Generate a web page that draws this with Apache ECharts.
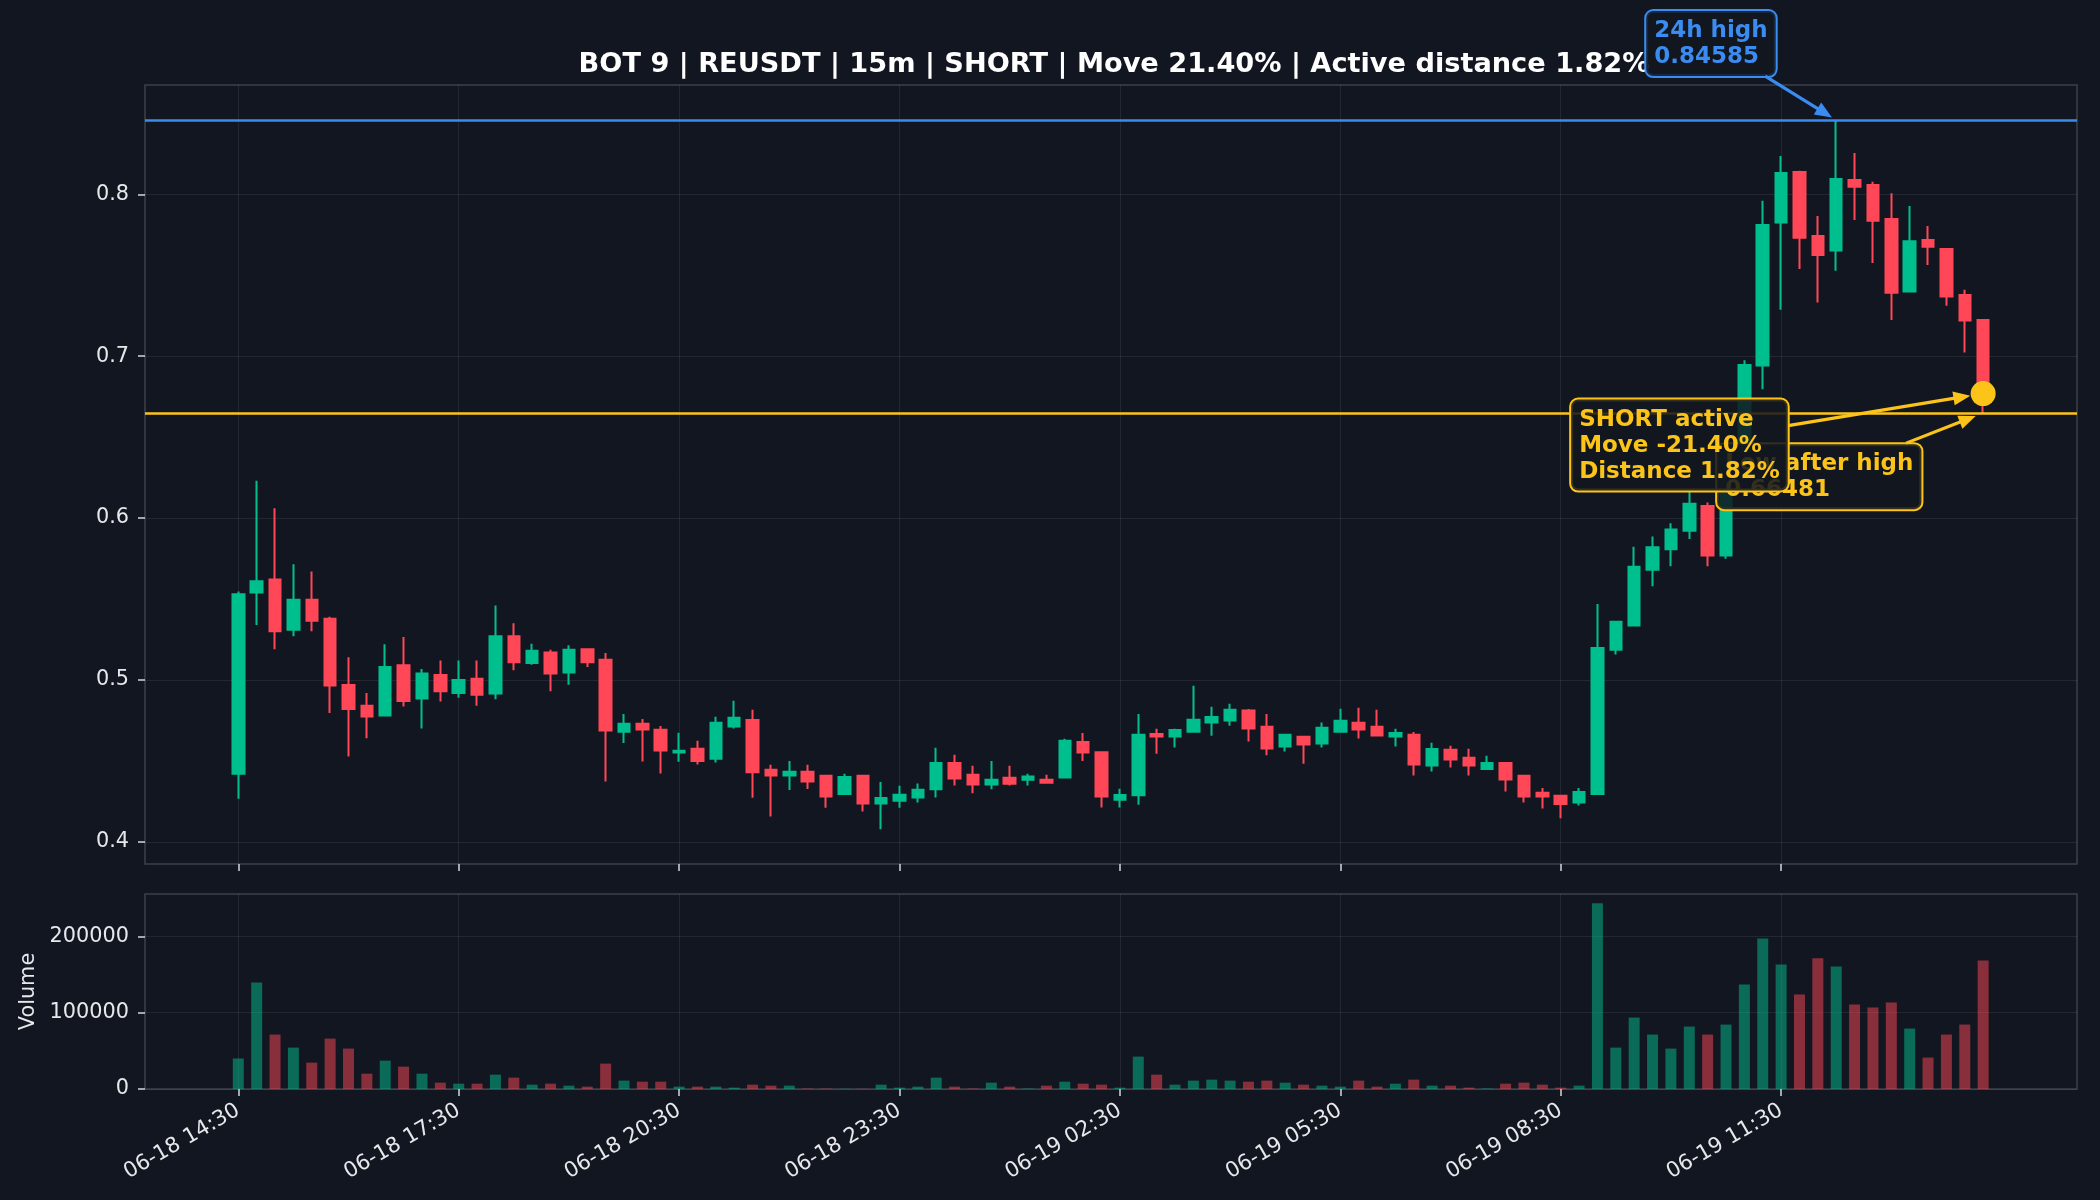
<!DOCTYPE html>
<html>
<head>
<meta charset="utf-8">
<script src="https://cdn.jsdelivr.net/npm/echarts@6/dist/echarts.min.js"></script>
<style>
  html, body { margin: 0; padding: 0; background: #121620; }
  #chart { width: 2100px; height: 1200px; }
</style>
</head>
<body>
<div id="chart"></div>
<script>
  // 15m candles, 06-18 14:30 -> 06-19 14:15
  const opens = [0.442,0.554,0.562,0.531,0.5495,0.5378,0.4968,0.484,0.478,0.509,0.4886,0.503,0.492,0.5007,0.4916,0.527,
    0.5104,0.517,0.5046,0.519,0.5124,0.468,0.473,0.4692,0.4552,0.4575,0.4513,0.4713,0.4752,0.4445,0.441,0.4433,
    0.4408,0.4295,0.4408,0.4237,0.4254,0.4274,0.4324,0.4487,0.4414,0.4354,0.4396,0.4383,0.4383,0.4398,0.4616,0.4554,
    0.426,0.4287,0.4666,0.4651,0.468,0.4737,0.475,0.4811,0.4711,0.4589,0.4649,0.4608,0.468,0.4735,0.4711,0.4651,
    0.4661,0.4472,0.4569,0.4519,0.445,0.4487,0.4408,0.4303,0.4285,0.4243,0.4295,0.5187,0.5336,0.5681,0.5807,0.5922,
    0.6075,0.5768,0.641,0.6942,0.7825,0.8138,0.7743,0.7652,0.8088,0.8057,0.7848,0.7399,0.7718,0.7662,0.7378,0.7224]
  const closes = [0.553,0.561,0.530,0.5495,0.5365,0.4966,0.482,0.4774,0.508,0.487,0.504,0.493,0.500,0.4908,0.527,0.511,
    0.518,0.504,0.5186,0.511,0.4688,0.473,0.4694,0.4564,0.4563,0.450,0.4735,0.4766,0.4429,0.441,0.4433,0.4373,
    0.428,0.440,0.4237,0.427,0.4291,0.4322,0.4487,0.4391,0.4354,0.4383,0.4359,0.4404,0.4365,0.4624,0.4552,0.428,
    0.4289,0.4661,0.4651,0.469,0.4754,0.4771,0.4816,0.470,0.4577,0.4661,0.4601,0.4705,0.4748,0.4694,0.4657,0.4672,
    0.4478,0.4573,0.4509,0.4472,0.4487,0.4385,0.428,0.428,0.4233,0.4307,0.5197,0.5359,0.5699,0.582,0.593,0.6088,
    0.5768,0.641,0.6946,0.781,0.8132,0.7732,0.7625,0.8095,0.8047,0.7837,0.7392,0.771,0.7676,0.7368,0.722,0.6769]
  const highs = [0.5546,0.623,0.606,0.5715,0.567,0.539,0.514,0.492,0.522,0.5265,0.5067,0.512,0.512,0.512,0.546,0.535,
    0.5223,0.5186,0.5215,0.5195,0.5166,0.479,0.4758,0.4715,0.4674,0.4624,0.4772,0.4871,0.4816,0.4476,0.450,0.4476,
    0.441,0.442,0.441,0.4369,0.4346,0.436,0.4581,0.4538,0.447,0.450,0.447,0.442,0.4414,0.4637,0.4672,0.4556,
    0.4328,0.4789,0.4698,0.4698,0.4964,0.4834,0.4853,0.482,0.4789,0.4666,0.465,0.4737,0.4822,0.4828,0.4816,0.4698,
    0.4678,0.4612,0.4593,0.4575,0.4532,0.449,0.441,0.4332,0.4291,0.4332,0.5469,0.536,0.5822,0.5886,0.5968,0.617,
    0.6096,0.643,0.6975,0.796,0.8237,0.8145,0.7866,0.84585,0.8255,0.8078,0.8006,0.7928,0.7804,0.7665,0.741,0.7228]
  const lows = [0.4266,0.534,0.519,0.527,0.530,0.4795,0.4527,0.464,0.4775,0.4836,0.470,0.4867,0.489,0.484,0.488,0.506,
    0.5094,0.493,0.497,0.508,0.4373,0.461,0.4496,0.4422,0.4495,0.4478,0.449,0.470,0.4272,0.4157,0.432,0.4326,
    0.421,0.4295,0.4188,0.4077,0.421,0.4243,0.4274,0.4348,0.430,0.4324,0.4348,0.4348,0.436,0.4396,0.450,0.4212,
    0.4212,0.4229,0.4544,0.4583,0.4676,0.4655,0.4717,0.462,0.4534,0.4558,0.4482,0.4583,0.468,0.4639,0.4655,0.4589,
    0.441,0.4435,0.4459,0.441,0.4449,0.4311,0.4243,0.4206,0.4145,0.4225,0.429,0.5157,0.5336,0.5579,0.5702,0.5871,
    0.5702,0.5748,0.638,0.6796,0.7286,0.7539,0.7331,0.7528,0.7841,0.7576,0.7224,0.7395,0.7563,0.7312,0.7022,0.66481]
  const volumes = [40000,139700,71400,54300,34600,66100,53000,20100,37200,29300,20100,8300,7000,7000,18800,14900,
    5700,7000,4400,3100,33300,11000,9600,9600,3100,3100,3100,1800,5700,4400,4400,600,
    600,300,300,5700,1800,3100,14900,3100,600,8300,3100,600,4400,9600,7000,5700,
    1800,42500,18800,5700,11000,12300,11000,9600,11000,8300,5700,4400,3100,11000,3100,7000,
    12300,4400,4400,1800,600,7000,8300,5700,1800,4400,243500,54300,93700,71400,53000,81900,
    71400,84500,137100,197500,163400,124000,171300,160700,110800,106900,113400,79300,41200,71400,84500,168600]

  const tickIdx = [0, 12, 24, 36, 48, 60, 72, 84]
  const tickLabels = ['06-18 14:30','06-18 17:30','06-18 20:30','06-18 23:30','06-19 02:30','06-19 05:30','06-19 08:30','06-19 11:30']
  const priceTicks = [0.4, 0.5, 0.6, 0.7, 0.8]
  const volTicks = [0, 100000, 200000]

  const high24h = 0.84585
  const highIdx = 87
  const lowAfterHigh = 0.66481
  const lastIdx = closes.length - 1

  const BG = '#121620'
  const UP = '#00bf8f', DOWN = '#ff4757'
  const BLUE = '#3a8cf0', GOLD = '#fcc419'
  const FONT = 'DejaVu Sans'
  const TXT = '#e6e8eb'
  const GRIDC = 'rgba(255,255,255,0.075)'
  const FRAME = '#3c4049'
  const TICKC = '#d4d7dc'

  const movePct = ((1 - lowAfterHigh / high24h) * 100).toFixed(2)
  const distPct = ((closes[lastIdx] / lowAfterHigh - 1) * 100).toFixed(2)

  let chart = echarts.init(document.getElementById('chart'))

  let candleData = opens.map((o, i) => [i, o, closes[i], lows[i], highs[i]])
  let volData = volumes.map((v, i) => ({
    value: [i, v],
    itemStyle: { color: closes[i] >= opens[i] ? 'rgba(0,191,143,0.5)' : 'rgba(255,71,87,0.5)' }
  }))

  function xAxisCfg(grid, labels) {
    return {
      type: 'value', gridIndex: grid, min: -5.08, max: 100.11,
      axisLine: { show: false, onZero: false },
      axisTick: { show: true, customValues: tickIdx, length: 7, lineStyle: { color: TICKC, width: 1.5 } },
      axisLabel: {
        show: labels, customValues: tickIdx, rotate: 30, margin: 20,
        color: TXT, fontSize: 21.3, fontFamily: FONT,
        formatter: v => {
          let k = tickIdx.indexOf(Math.round(v))
          return k >= 0 ? tickLabels[k] : ''
        }
      },
      splitLine: { show: true, lineStyle: { color: GRIDC, width: 1 } }
    }
  }

  let option = {
    backgroundColor: BG,
    animation: false,
    title: {
      text: 'BOT 9 | REUSDT | 15m | SHORT | Move ' + movePct + '% | Active distance ' + distPct + '%',
      left: 1109, top: 46, textAlign: 'center',
      textStyle: { color: '#ffffff', fontSize: 27.2, fontWeight: 'bold', fontFamily: FONT }
    },
    grid: [
      { left: 145, right: 23, top: 85, height: 779, show: true, borderColor: FRAME, borderWidth: 1.5, backgroundColor: 'transparent' },
      { left: 145, right: 23, top: 894, height: 195, show: true, borderColor: FRAME, borderWidth: 1.5, backgroundColor: 'transparent' }
    ],
    xAxis: [xAxisCfg(0, false), xAxisCfg(1, true)],
    yAxis: [
      {
        type: 'value', gridIndex: 0, min: 0.3863, max: 0.8675, scale: true,
        axisLine: { show: false, onZero: false },
        axisTick: { show: true, customValues: priceTicks, length: 7, lineStyle: { color: TICKC, width: 1.5 } },
        axisLabel: { customValues: priceTicks, margin: 16, color: TXT, fontSize: 20.8, fontFamily: FONT, formatter: v => v.toFixed(1) },
        splitLine: { show: true, lineStyle: { color: GRIDC, width: 1 } }
      },
      {
        type: 'value', gridIndex: 1, min: 0, max: 255700,
        name: 'Volume', nameLocation: 'middle', nameRotate: 90, nameGap: 102,
        nameTextStyle: { color: TXT, fontSize: 20.8, fontFamily: FONT },
        axisLine: { show: false, onZero: false },
        axisTick: { show: true, customValues: volTicks, length: 7, lineStyle: { color: TICKC, width: 1.5 } },
        axisLabel: { customValues: volTicks, margin: 16, color: TXT, fontSize: 20.8, fontFamily: FONT, formatter: v => String(Math.round(v)) },
        splitLine: { show: true, lineStyle: { color: GRIDC, width: 1 } }
      }
    ],
    series: [
      {
        type: 'candlestick', xAxisIndex: 0, yAxisIndex: 0,
        data: candleData,
        encode: { x: 0, y: [1, 2, 3, 4] },
        barWidth: 12, clip: false,
        itemStyle: { color: UP, color0: DOWN, borderColor: UP, borderColor0: DOWN, borderWidth: 2 },
        markLine: {
          silent: true, precision: 5, symbol: ['none', 'none'], label: { show: false },
          data: [
            { yAxis: high24h, lineStyle: { color: BLUE, width: 2.5, type: 'solid' } },
            { yAxis: lowAfterHigh, lineStyle: { color: GOLD, width: 2.5, type: 'solid' } }
          ]
        },
        markPoint: {
          silent: true, symbol: 'circle', symbolSize: 25, label: { show: false },
          itemStyle: { color: GOLD },
          data: [{ coord: [lastIdx, closes[lastIdx]] }]
        }
      },
      {
        type: 'bar', xAxisIndex: 1, yAxisIndex: 1,
        data: volData, barWidth: 11
      }
    ]
  }

  chart.setOption(option)

  // annotations: point from data, box / arrow start as pixel offsets (like offset points)
  let notes = [
    { at: [lastIdx, lowAfterHigh], text: 'Low after high\n' + lowAfterHigh.toFixed(5), color: GOLD, box: [-266, 31], from: [-77, 30], shrink: 8 },
    { at: [lastIdx, closes[lastIdx]], text: 'SHORT active\nMove -' + movePct + '%\nDistance ' + distPct + '%', color: GOLD, box: [-412, 6], from: [-195, 32], shrink: 13 },
    { at: [highIdx, high24h], text: '24h high\n' + high24h.toFixed(5), color: BLUE, box: [-190, -109], from: [-71, -44], shrink: 5 }
  ]

  function arrow(p0, p1, shrink, color) {
    let dx = p1[0] - p0[0], dy = p1[1] - p0[1]
    let len = Math.hypot(dx, dy)
    let ux = dx / len, uy = dy / len
    let tip = [p1[0] - ux * shrink, p1[1] - uy * shrink]
    let head = 17, half = 7
    let base = [tip[0] - ux * head, tip[1] - uy * head]
    return [
      { type: 'line', z: 100, shape: { x1: p0[0], y1: p0[1], x2: base[0] + ux * 3, y2: base[1] + uy * 3 }, style: { stroke: color, lineWidth: 3.2 } },
      { type: 'polygon', z: 100, shape: { points: [tip, [base[0] - uy * half, base[1] + ux * half], [base[0] + uy * half, base[1] - ux * half]] }, style: { fill: color } }
    ]
  }

  let elements = []
  notes.forEach(n => {
    let p = chart.convertToPixel({ gridIndex: 0 }, n.at)
    elements.push({
      type: 'text', z: 100, x: p[0] + n.box[0], y: p[1] + n.box[1],
      style: {
        text: n.text, fill: n.color, fontSize: 23, fontWeight: 'bold', fontFamily: FONT, lineHeight: 26,
        backgroundColor: 'rgba(18,22,32,0.86)', borderColor: n.color, borderWidth: 2, borderRadius: 7,
        padding: [7, 8, 6, 8], align: 'left', verticalAlign: 'top'
      }
    })
    elements = elements.concat(arrow([p[0] + n.from[0], p[1] + n.from[1]], p, n.shrink, n.color))
  })
  chart.setOption({ graphic: { elements: elements } })
</script>
</body>
</html>
